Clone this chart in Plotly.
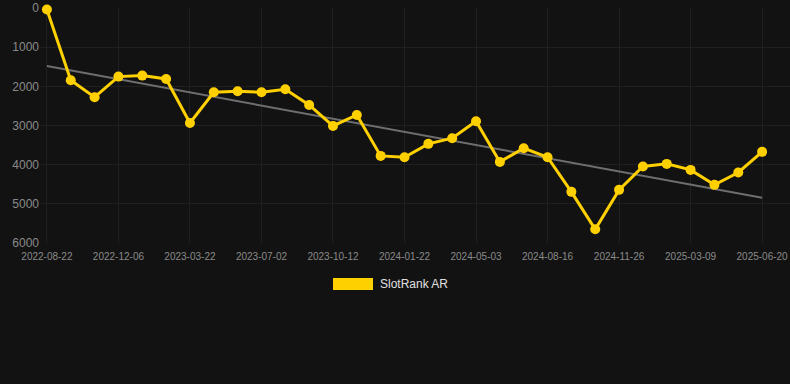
import plotly.graph_objects as go

dates = [
    "2022-08-22", "2022-09-27", "2022-10-31", "2022-12-06", "2023-01-10", "2023-02-15",
    "2023-03-22", "2023-04-25", "2023-05-29", "2023-07-02", "2023-08-05", "2023-09-08",
    "2023-10-12", "2023-11-15", "2023-12-19", "2024-01-22", "2024-02-25", "2024-03-30",
    "2024-05-03", "2024-06-08", "2024-07-12", "2024-08-16", "2024-09-19", "2024-10-23",
    "2024-11-26", "2024-12-30", "2025-02-03", "2025-03-09", "2025-04-12", "2025-05-16",
    "2025-06-20",
]
rank = [
    40, 1845, 2278, 1752, 1726, 1811,
    2934, 2150, 2125, 2150, 2075, 2475,
    3010, 2730, 3776, 3810, 3469, 3325,
    2891, 3929, 3580, 3810, 4694, 5650,
    4643, 4048, 3980, 4133, 4515, 4200,
    3673,
]
trend_dates = [dates[0], dates[-1]]
trend_values = [1480, 4847]
tick_labels = dates[::3]
y_ticks = [0, 1000, 2000, 3000, 4000, 5000, 6000]
series_name = "SlotRank AR"

GOLD = "#FFD000"
W, H = 790, 384
ML, MR, MT, MB = 40, 0, 8, 141
PW, PH = W - ML - MR, H - MT - MB


def px_x(p):
    return (p - ML) / PW


def px_y(p):
    return (H - MB - p) / PH


fig = go.Figure()
fig.add_trace(go.Scatter(
    x=trend_dates, y=trend_values, mode="lines",
    line=dict(color="#6e6e6e", width=2), showlegend=False, hoverinfo="skip",
))
fig.add_trace(go.Scatter(
    x=dates, y=rank, mode="lines+markers", name=series_name,
    line=dict(color=GOLD, width=3), marker=dict(color=GOLD, size=10),
    showlegend=False, cliponaxis=False,
))

# legend drawn as a swatch + label
fig.add_shape(type="rect", xref="paper", yref="paper",
              x0=px_x(333), x1=px_x(373), y0=px_y(290), y1=px_y(278),
              fillcolor=GOLD, line=dict(width=0))
fig.add_annotation(xref="paper", yref="paper", x=px_x(378), y=px_y(284),
                   xanchor="left", yanchor="middle", showarrow=False,
                   text=series_name, font=dict(size=12, color="#e0e0e0"))

fig.update_layout(
    width=W, height=H,
    paper_bgcolor="#121212", plot_bgcolor="#121212",
    margin=dict(l=ML, r=MR, t=MT, b=MB, autoexpand=False),
    font=dict(family="Liberation Sans, Arial, sans-serif", color="#8a8a8a"),
    showlegend=False,
    xaxis=dict(
        type="category", categoryorder="array", categoryarray=dates,
        range=[-0.29, 31.17], automargin=False,
        tickmode="array", tickvals=tick_labels, ticktext=tick_labels,
        tickfont=dict(size=10, color="#8a8a8a"), ticklabelstandoff=6,
        showgrid=True, gridcolor="#202020", gridwidth=1,
        zeroline=False, showline=False, ticks="",
    ),
    yaxis=dict(
        range=[6000, 0], tickvals=y_ticks, automargin=False,
        tickfont=dict(size=12, color="#8a8a8a"),
        showgrid=True, gridcolor="#202020", gridwidth=1,
        zeroline=False, showline=False, ticks="",
    ),
)

fig.write_html("out.html", config={"displayModeBar": False},
               post_script="document.body.style.margin='0';document.body.style.background='#121212';")
